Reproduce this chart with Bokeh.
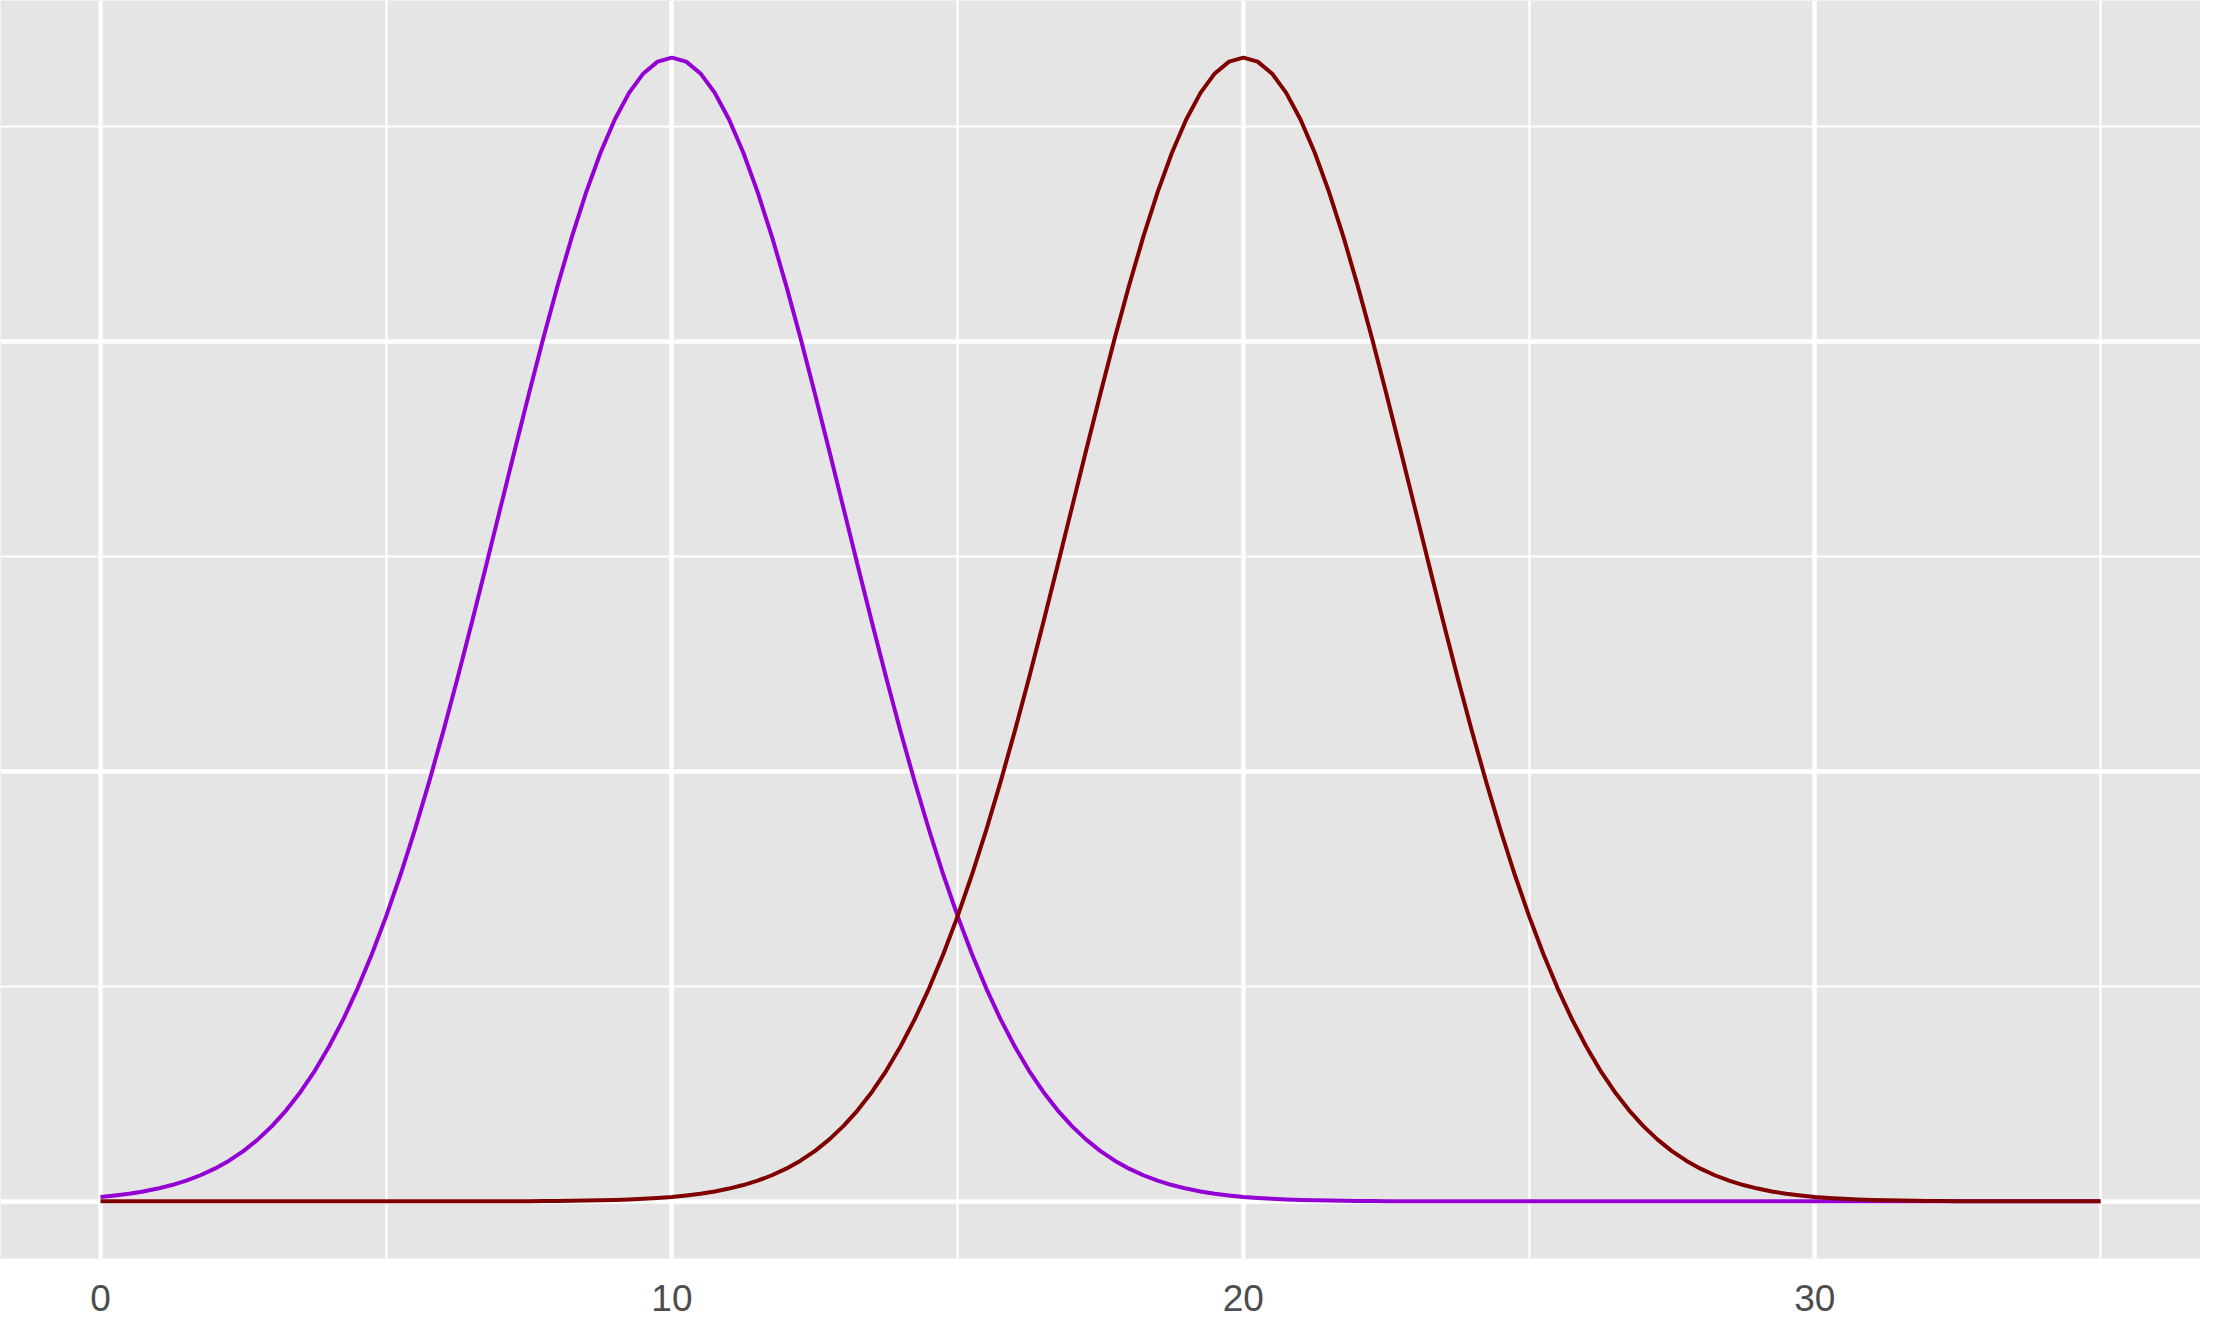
from bokeh.plotting import figure
from bokeh.models import Range1d, FixedTicker
from bokeh.embed import file_html
from bokeh.resources import INLINE

# sample positions along x (0 to 35, every 0.25)
x_vals = [i * 0.25 for i in range(141)]

# density curve centred at 10
purple_y = [
    0.00051, 0.00068, 0.00088, 0.00115, 0.00148, 0.00189, 0.00240, 0.00303,
    0.00380, 0.00473, 0.00584, 0.00717, 0.00874, 0.01058, 0.01272, 0.01518,
    0.01800, 0.02118, 0.02477, 0.02876, 0.03316, 0.03797, 0.04317, 0.04875,
    0.05467, 0.06088, 0.06733, 0.07395, 0.08066, 0.08736, 0.09397, 0.10038,
    0.10648, 0.11218, 0.11735, 0.12192, 0.12579, 0.12889, 0.13115, 0.13252,
    0.13298,
    0.13252, 0.13115, 0.12889, 0.12579, 0.12192, 0.11735, 0.11218, 0.10648,
    0.10038, 0.09397, 0.08736, 0.08066, 0.07395, 0.06733, 0.06088, 0.05467,
    0.04875, 0.04317, 0.03797, 0.03316, 0.02876, 0.02477, 0.02118, 0.01800,
    0.01518, 0.01272, 0.01058, 0.00874, 0.00717, 0.00584, 0.00473, 0.00380,
    0.00303, 0.00240, 0.00189, 0.00148, 0.00115, 0.00088, 0.00068, 0.00051,
    0.00039, 0.00029, 0.00022, 0.00016, 0.00012, 0.00009, 0.00006, 0.00004,
    0.00003, 0.00002, 0.00002, 0.00001, 0.00001,
    0.0, 0.0, 0.0, 0.0, 0.0, 0.0, 0.0, 0.0, 0.0, 0.0, 0.0, 0.0, 0.0, 0.0, 0.0, 0.0,
    0.0, 0.0, 0.0, 0.0, 0.0, 0.0, 0.0, 0.0, 0.0, 0.0, 0.0, 0.0, 0.0, 0.0, 0.0, 0.0,
    0.0, 0.0, 0.0, 0.0, 0.0, 0.0, 0.0, 0.0, 0.0, 0.0, 0.0, 0.0, 0.0, 0.0, 0.0,
]

# density curve centred at 20
red_y = [
    0.0, 0.0, 0.0, 0.0, 0.0, 0.0, 0.0, 0.0, 0.0, 0.0, 0.0, 0.0, 0.0, 0.0,
    0.0, 0.0, 0.0, 0.0, 0.0, 0.0, 0.0, 0.0, 0.0, 0.0, 0.0, 0.0, 0.0,
    0.00001, 0.00001, 0.00002, 0.00002, 0.00003, 0.00004, 0.00006, 0.00009,
    0.00012, 0.00016, 0.00022, 0.00029, 0.00039,
    0.00051, 0.00068, 0.00088, 0.00115, 0.00148, 0.00189, 0.00240, 0.00303,
    0.00380, 0.00473, 0.00584, 0.00717, 0.00874, 0.01058, 0.01272, 0.01518,
    0.01800, 0.02118, 0.02477, 0.02876, 0.03316, 0.03797, 0.04317, 0.04875,
    0.05467, 0.06088, 0.06733, 0.07395, 0.08066, 0.08736, 0.09397, 0.10038,
    0.10648, 0.11218, 0.11735, 0.12192, 0.12579, 0.12889, 0.13115, 0.13252,
    0.13298,
    0.13252, 0.13115, 0.12889, 0.12579, 0.12192, 0.11735, 0.11218, 0.10648,
    0.10038, 0.09397, 0.08736, 0.08066, 0.07395, 0.06733, 0.06088, 0.05467,
    0.04875, 0.04317, 0.03797, 0.03316, 0.02876, 0.02477, 0.02118, 0.01800,
    0.01518, 0.01272, 0.01058, 0.00874, 0.00717, 0.00584, 0.00473, 0.00380,
    0.00303, 0.00240, 0.00189, 0.00148, 0.00115, 0.00088, 0.00068, 0.00051,
    0.00039, 0.00029, 0.00022, 0.00016, 0.00012, 0.00009, 0.00006, 0.00004,
    0.00003, 0.00002, 0.00002, 0.00001, 0.00001,
    0.0, 0.0, 0.0, 0.0, 0.0, 0.0, 0.0,
]

x_major = [0, 10, 20, 30]
x_minor = [5, 15, 25, 35]
y_major = [0, 0.05, 0.1]
y_minor = [0.025, 0.075, 0.125]

p = figure(frame_width=2200, frame_height=1258, output_backend="svg",
           toolbar_location=None, min_border=0, min_border_bottom=62,
           x_range=Range1d(-1.75, 36.75), y_range=Range1d(-0.00665, 0.13963))
p.background_fill_color = "#E5E5E5"
p.border_fill_color = "white"
p.outline_line_color = None

p.line(x_vals, purple_y, line_color="#9400D3", line_width=4, line_join="round")
p.line(x_vals, red_y, line_color="#800000", line_width=4, line_join="round")

p.yaxis.visible = False
p.xaxis.ticker = FixedTicker(ticks=x_major, minor_ticks=x_minor)
p.xaxis.axis_line_color = None
p.xaxis.major_tick_line_color = None
p.xaxis.minor_tick_line_color = None
p.xaxis.major_label_text_font = "Liberation Sans"
p.xaxis.major_label_text_font_size = "37px"
p.xaxis.major_label_text_color = "#4D4D4D"
p.xaxis.major_label_standoff = 20

p.xgrid.ticker = FixedTicker(ticks=x_major, minor_ticks=x_minor)
p.ygrid.ticker = FixedTicker(ticks=y_major, minor_ticks=y_minor)
for g in (p.xgrid, p.ygrid):
    g.grid_line_color = "white"
    g.grid_line_width = 4.5
    g.minor_grid_line_color = "white"
    g.minor_grid_line_width = 2.2

open("out.html", "w").write(file_html(p, INLINE))
